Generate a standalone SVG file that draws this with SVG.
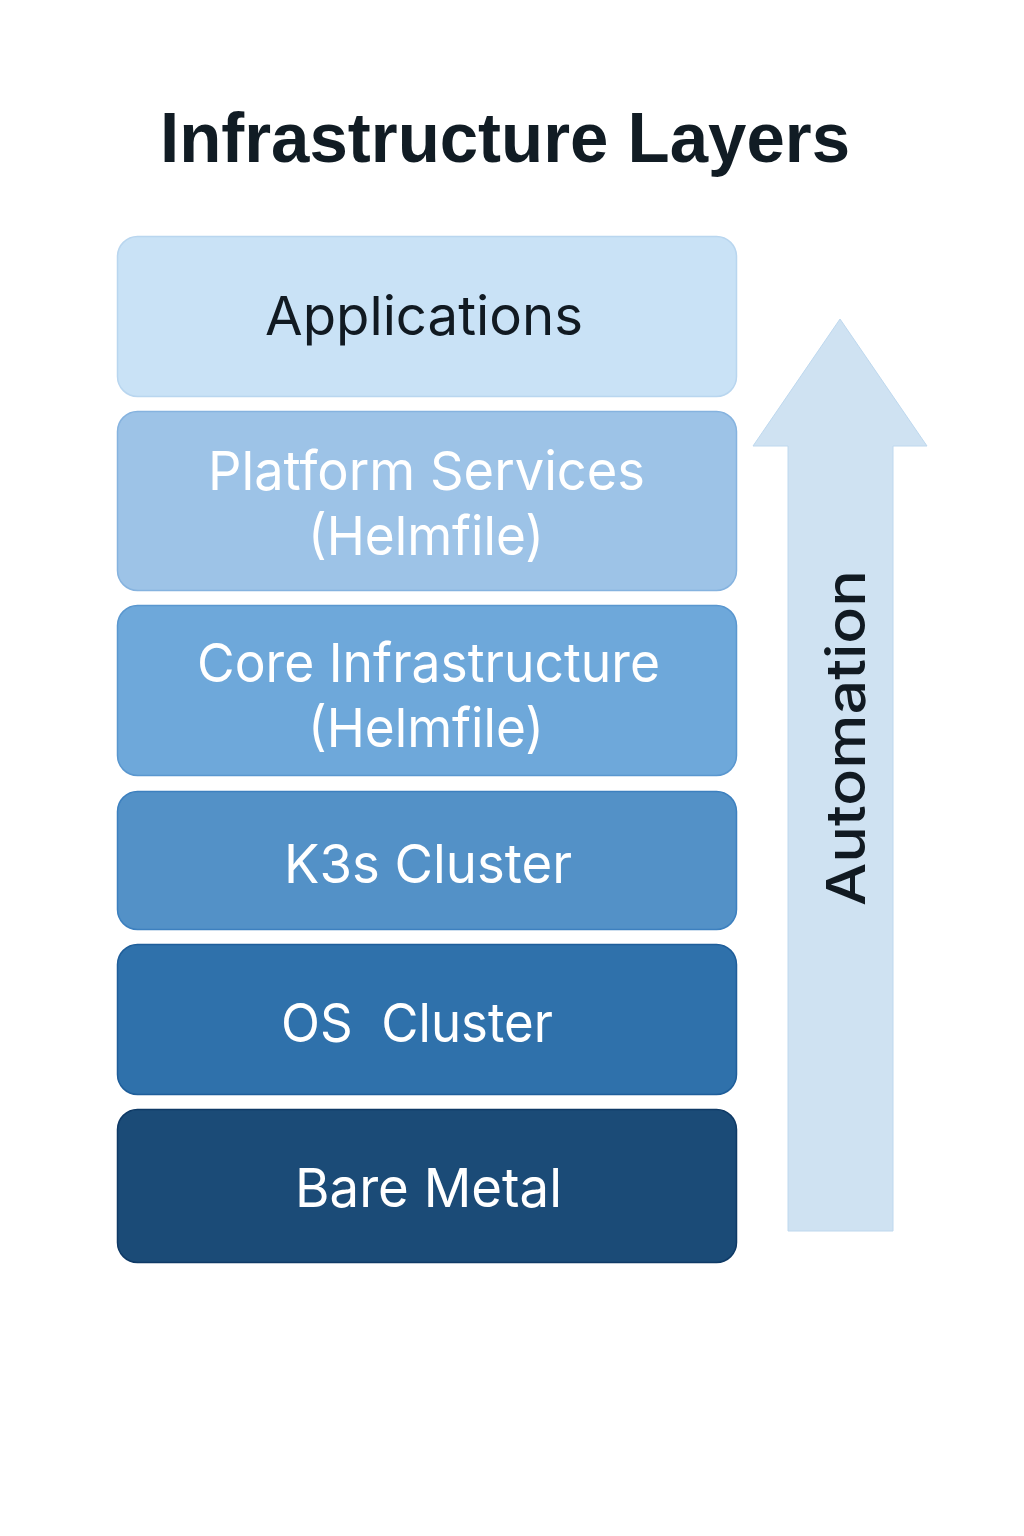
<svg xmlns="http://www.w3.org/2000/svg" width="1024" height="1536" viewBox="0 0 1024 1536">
<style>
.box{stroke-width:1.5}
.lbl{font-family:Inter,"Liberation Sans",sans-serif;font-size:54px;text-anchor:middle;fill:#ffffff}
.dark{fill:#111a22}
.title{font-family:"Liberation Sans",Arial,sans-serif;font-weight:bold;font-size:70px;text-anchor:middle;fill:#111c24}
</style>
<rect width="1024" height="1536" fill="#ffffff"/>
<text class="title" x="505" y="162" textLength="690" lengthAdjust="spacingAndGlyphs">Infrastructure Layers</text>

<g id="connectors">
<g id="automation-arrow">
<polygon points="840,319 927,446 893,446 893,1231 788,1231 788,446 753,446" fill="#cfe2f2" stroke="#bed8ee" stroke-width="1"/>
<text class="lbl dark" x="0" y="0" font-size="72" font-weight="500" transform="translate(865,738) rotate(-90)" textLength="336" lengthAdjust="spacingAndGlyphs">Automation</text>
</g>
</g>

<g id="applications">
<rect class="box" x="117.5" y="236.5" width="619" height="160" rx="20" fill="#c9e2f6" stroke="#b9d6ef"/>
<text class="lbl dark" x="424" y="335" textLength="318" lengthAdjust="spacingAndGlyphs">Applications</text>
</g>
<g id="platform-services">
<rect class="box" x="117.5" y="411.5" width="619" height="179" rx="20" fill="#9dc3e7" stroke="#86b3df"/>
<text class="lbl" x="426.5" y="490" font-size="52" textLength="437" lengthAdjust="spacingAndGlyphs">Platform Services</text>
<text class="lbl" x="426" y="555" textLength="236" lengthAdjust="spacingAndGlyphs">(Helmfile)</text>
</g>
<g id="core-infrastructure">
<rect class="box" x="117.5" y="605.5" width="619" height="170" rx="20" fill="#6ea8da" stroke="#5a97cf"/>
<text class="lbl" x="428.5" y="682" textLength="463" lengthAdjust="spacingAndGlyphs">Core Infrastructure</text>
<text class="lbl" x="426" y="747" textLength="236" lengthAdjust="spacingAndGlyphs">(Helmfile)</text>
</g>
<g id="k3s-cluster">
<rect class="box" x="117.5" y="791.5" width="619" height="138" rx="20" fill="#5391c7" stroke="#3d80bf"/>
<text class="lbl" x="428" y="883" textLength="288" lengthAdjust="spacingAndGlyphs">K3s Cluster</text>
</g>
<g id="os-cluster">
<rect class="box" x="117.5" y="944.5" width="619" height="150" rx="20" fill="#2f71ab" stroke="#1f5e9a"/>
<text class="lbl" x="417" y="1042" xml:space="preserve" textLength="272" lengthAdjust="spacingAndGlyphs">OS  Cluster</text>
</g>
<g id="bare-metal">
<rect class="box" x="117.5" y="1109.5" width="619" height="153" rx="20" fill="#1b4b77" stroke="#0f3a66"/>
<text class="lbl" x="428.5" y="1207" textLength="267" lengthAdjust="spacingAndGlyphs">Bare Metal</text>
</g>
</svg>
